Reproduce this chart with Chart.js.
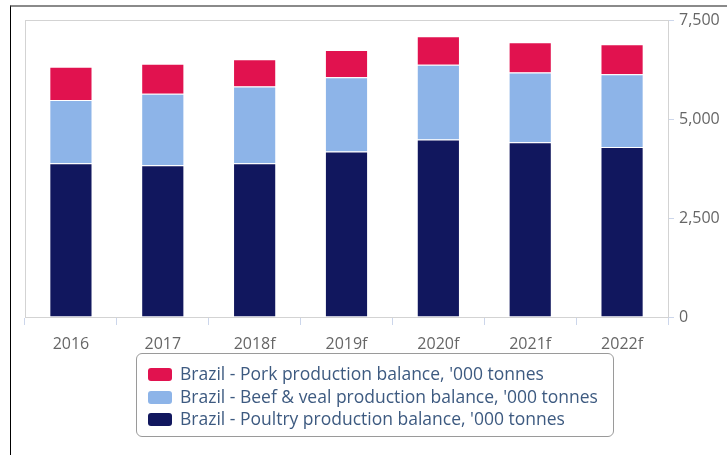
<!DOCTYPE html>
<html>
<head>
<meta charset="utf-8">
<script src="https://cdn.jsdelivr.net/npm/chart.js@4"></script>
<style>
  html, body { margin: 0; padding: 0; background: #fff; }
  #wrap { position: relative; width: 727px; height: 455px; overflow: hidden; }
  #frame { position: absolute; left: 10px; top: 5px; right: 0; bottom: 0;
           border-top: 2px solid #8a8a8a; border-left: 1px solid #000; }
  #legend { position: absolute; left: 136px; top: 353px; width: 478px; height: 84px;
            border: 1px solid #9a9a9a; border-radius: 6px; box-sizing: border-box;
            padding: 8px 0 0 11px; font-family: 'Open Sans', sans-serif; font-size: 17.5px; color: #3d5a80; }
  .item { height: 22.5px; line-height: 22.5px; white-space: nowrap; }
  .sw { display: inline-block; width: 24px; height: 13px; border-radius: 3px; vertical-align: -1px; margin-right: 8px; }
</style>
</head>
<body>
<div id="wrap">
  <div id="frame"></div>
  <canvas id="c" width="727" height="455"></canvas>
  <div id="legend"></div>
</div>
<script>
const YEARS   = ['2016','2017','2018f','2019f','2020f','2021f','2022f'];
const POULTRY = [3880, 3835, 3880, 4180, 4485, 4410, 4290];
const BEEF    = [1600, 1800, 1940, 1875, 1885, 1765, 1840];
const PORK    = [ 840,  760,  690,  685,  720,  760,  760];
const Y_TICKS = [0, 2500, 5000, 7500];

const PORK_C = '#e1124f', BEEF_C = '#8db4e8', POULTRY_C = '#11175e';
const AXIS_C = '#ccd6eb';

Chart.defaults.font.family = "'Open Sans', sans-serif";
Chart.defaults.font.size   = 16;
Chart.defaults.color       = '#666';

// caja gris del área de dibujo
const plotBox = {
  id: 'plotBox',
  beforeDatasetsDraw(chart) {
    const { ctx, chartArea: a } = chart;
    ctx.save();
    ctx.strokeStyle = '#d3d3d3';
    ctx.lineWidth = 1;
    ctx.strokeRect(a.left + 0.5, a.top + 0.5, a.right - a.left, a.bottom - a.top);
    ctx.restore();
  }
};

const bar = (label, data, color) => ({
  label, data, backgroundColor: color, borderColor: '#fff', borderWidth: 1,
  barPercentage: 0.47, categoryPercentage: 1
});

const chart = new Chart(document.getElementById('c'), {
  type: 'bar',
  data: {
    labels: YEARS,
    datasets: [
      bar("Brazil - Poultry production balance, '000 tonnes", POULTRY, POULTRY_C),
      bar("Brazil - Beef & veal production balance, '000 tonnes", BEEF, BEEF_C),
      bar("Brazil - Pork production balance, '000 tonnes", PORK, PORK_C)
    ]
  },
  options: {
    responsive: false,
    animation: false,
    layout: { padding: { left: 25, top: 20, right: 0, bottom: 0 } },
    plugins: { legend: { display: false }, tooltip: { enabled: false } },
    scales: {
      x: {
        stacked: true,
        grid: { display: true, drawOnChartArea: false, drawTicks: true, tickLength: 8, color: AXIS_C, offset: true },
        border: { color: AXIS_C },
        ticks: { padding: 10 },
        afterFit: s => { s.height = 138; }
      },
      y: {
        stacked: true,
        position: 'right',
        min: 0, max: 7500,
        afterBuildTicks: s => { s.ticks = Y_TICKS.map(v => ({ value: v })); },
        grid: { drawOnChartArea: false, drawTicks: true, tickLength: 6, color: AXIS_C },
        border: { color: AXIS_C },
        ticks: { padding: 5, callback: v => v.toLocaleString('en-US') },
        afterFit: s => { s.width = 59; }
      }
    }
  },
  plugins: [plotBox]
});

// leyenda en HTML (orden inverso: cerdo arriba)
const legend = document.getElementById('legend');
chart.data.datasets.slice().reverse().forEach(ds => {
  const row = document.createElement('div');
  row.className = 'item';
  row.innerHTML = `<span class="sw" style="background:${ds.backgroundColor}"></span>${ds.label}`;
  legend.appendChild(row);
});
</script>
</body>
</html>
